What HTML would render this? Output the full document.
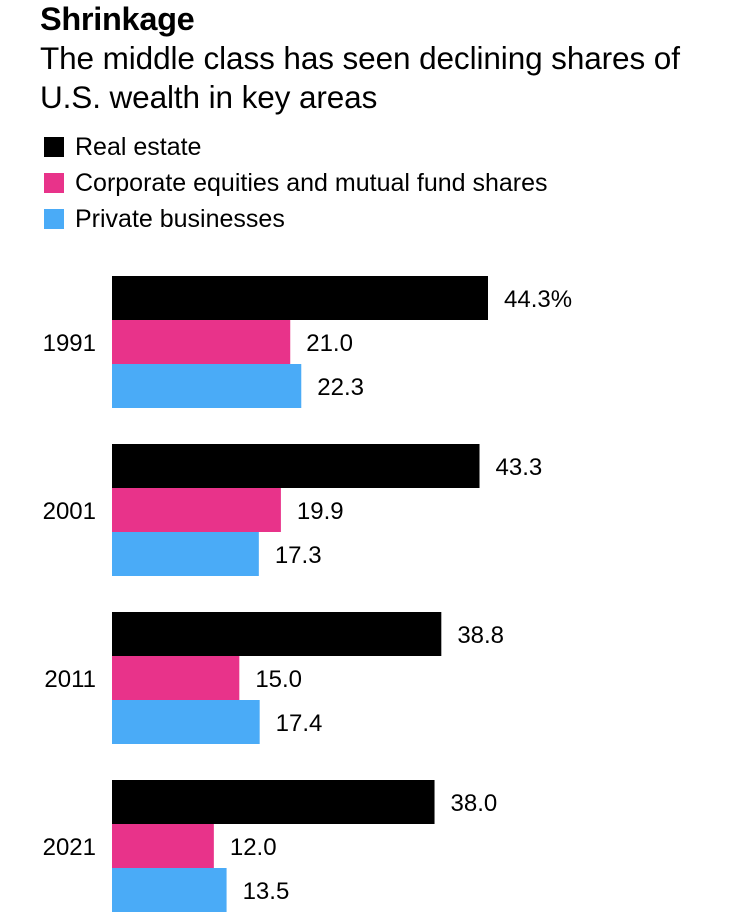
<!DOCTYPE html>
<html><head><meta charset="utf-8"><style>
body{margin:0;width:750px;height:912px;background:#fff;font-family:"Liberation Sans",sans-serif;overflow:hidden;position:relative}
.t{position:absolute;left:40px;white-space:nowrap;color:#000}
.sw{position:absolute;left:44px;width:20px;height:20px}
</style></head><body>
<div class="t" style="top:1px;font-size:32.5px;font-weight:bold;letter-spacing:-0.3px">Shrinkage</div>
<div class="t" style="top:39px;font-size:31.5px;line-height:39px;letter-spacing:-0.1px">The middle class has seen declining shares of<br>U.S. wealth in key areas</div>
<div>
<div class="sw" style="top:137px;background:#000"></div>
<div class="t" style="left:75px;top:133px;font-size:25px">Real estate</div>
<div class="sw" style="top:173px;background:#e8338a"></div>
<div class="t" style="left:75px;top:169px;font-size:25px">Corporate equities and mutual fund shares</div>
<div class="sw" style="top:209px;background:#4aabf7"></div>
<div class="t" style="left:75px;top:205px;font-size:25px">Private businesses</div>
</div>
<svg id="chart" width="750" height="912" style="position:absolute;left:0;top:0"></svg>
<script>
const categories=["1991","2001","2011","2021"];
const realEstate=[44.3,43.3,38.8,38.0];
const equities=[21.0,19.9,15.0,12.0];
const privateBiz=[22.3,17.3,17.4,13.5];
const seriesNames=["real-estate","equities","private-businesses"];
const colors=["#000","#e8338a","#4aabf7"];
const svg=document.getElementById('chart');
const NS="http://www.w3.org/2000/svg";
const x0=112, k=376/44.3;
const xs=v=>x0+v*k;
const groupY=i=>276+i*168;
const barH=44;
const all=[realEstate,equities,privateBiz];
categories.forEach((c,i)=>{
  const lab=document.createElementNS(NS,'text');
  
  
  lab.setAttribute('x',96);lab.setAttribute('y',groupY(i)+66+9);
  lab.setAttribute('text-anchor','end');lab.setAttribute('font-size','24');
  lab.setAttribute('font-family','Liberation Sans, sans-serif');
  lab.textContent=c;svg.appendChild(lab);
  all.forEach((s,j)=>{
    const y=groupY(i)+j*barH;
    const r=document.createElementNS(NS,'rect');
    
    
    r.setAttribute('x',x0);r.setAttribute('y',y);
    r.setAttribute('width',xs(s[i])-x0);r.setAttribute('height',barH);
    r.setAttribute('fill',colors[j]);svg.appendChild(r);
    const t=document.createElementNS(NS,'text');
    
    
    t.setAttribute('x',xs(s[i])+16);t.setAttribute('y',y+31);
    t.setAttribute('font-size','24');
    t.setAttribute('font-family','Liberation Sans, sans-serif');
    t.textContent=s[i].toFixed(1)+(i===0&&j===0?'%':'');
    svg.appendChild(t);
  });
});
</script>
</body></html>
